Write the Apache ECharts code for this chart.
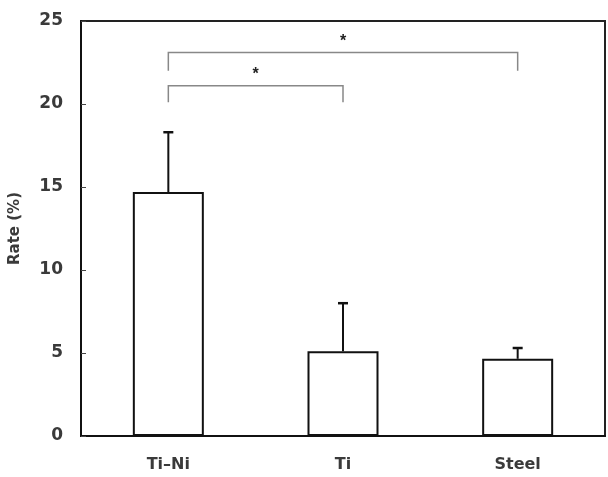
<!DOCTYPE html>
<html>
<head>
<meta charset="utf-8">
<script src="https://cdn.jsdelivr.net/npm/echarts@6/dist/echarts.min.js"></script>
<style>
  html, body { margin: 0; padding: 0; background: #fff; }
  #chart { width: 608px; height: 477px; }
</style>
</head>
<body>
<div id="chart"></div>
<script>
// data
const categories = ['Ti\u2013Ni', 'Ti', 'Steel'];
const rates = [14.7, 5.1, 4.65];
const errUpper = [18.3, 8.0, 5.3];
const yTicks = [0, 5, 10, 15, 20, 25];
// significance brackets: [fromIdx, toIdx, lineLevel, legEnd]
const brackets = [
  [0, 1, 21.1, 20.1],
  [0, 2, 23.1, 22.0]
];

var chartDom = document.getElementById('chart');
var myChart = echarts.init(chartDom);

const errData = rates.map((v, i) => [i, v, errUpper[i]]);
const labelFont = 'DejaVu Sans';

var option = {
  animation: false,
  grid: {
    left: 80, right: 3, top: 21, bottom: 41,
    show: true, borderColor: '#222', borderWidth: 2, backgroundColor: '#fff'
  },
  xAxis: {
    type: 'category',
    data: categories,
    axisLine: { lineStyle: { color: '#111', width: 2 } },
    axisTick: { show: false },
    axisLabel: { color: '#3a3a3a', fontSize: 16, fontFamily: labelFont, fontWeight: 'bold', margin: 21 }
  },
  yAxis: {
    type: 'value',
    min: yTicks[0], max: yTicks[yTicks.length - 1], interval: 5,
    name: 'Rate (%)',
    nameLocation: 'middle',
    nameGap: 58,
    nameTextStyle: { color: '#3a3a3a', fontSize: 15, fontFamily: labelFont, fontWeight: 'bold' },
    splitLine: { show: false },
    axisLine: { show: true, lineStyle: { color: '#111', width: 2 } },
    axisTick: { show: true, inside: true, length: 5, lineStyle: { color: '#444', width: 1 } },
    axisLabel: { color: '#3a3a3a', fontSize: 17, fontFamily: labelFont, fontWeight: 'bold', margin: 18 }
  },
  series: [
    {
      type: 'bar',
      data: rates,
      barWidth: 71,
      itemStyle: { color: '#fff', borderColor: '#111', borderWidth: 2 },
      z: 2
    },
    {
      type: 'custom',
      data: errData,
      z: 3,
      renderItem: function (params, api) {
        const base = api.coord([api.value(0), api.value(1)]);
        const top = api.coord([api.value(0), api.value(2)]);
        return {
          type: 'group',
          children: [
            { type: 'line', shape: { x1: base[0], y1: base[1], x2: top[0], y2: top[1] }, style: { stroke: '#111', lineWidth: 2 } },
            { type: 'line', shape: { x1: top[0] - 5, y1: top[1], x2: top[0] + 5, y2: top[1] }, style: { stroke: '#111', lineWidth: 2.5 } }
          ]
        };
      }
    },
    {
      type: 'custom',
      data: brackets,
      z: 3,
      renderItem: function (params, api) {
        const a = api.coord([api.value(0), api.value(2)]);
        const b = api.coord([api.value(1), api.value(2)]);
        const legA = api.coord([api.value(0), api.value(3)]);
        const legB = api.coord([api.value(1), api.value(3)]);
        return {
          type: 'group',
          children: [
            {
              type: 'polyline',
              shape: { points: [[legA[0], legA[1]], [a[0], a[1]], [b[0], b[1]], [legB[0], legB[1]]] },
              style: { stroke: '#888', lineWidth: 1.5, fill: null }
            },
            {
              type: 'text',
              x: (a[0] + b[0]) / 2, y: a[1] - 3,
              style: { text: '*', fill: '#222', font: 'bold 16px "Liberation Sans"', align: 'center', verticalAlign: 'bottom' }
            }
          ]
        };
      }
    }
  ]
};

option && myChart.setOption(option);
</script>
</body>
</html>
